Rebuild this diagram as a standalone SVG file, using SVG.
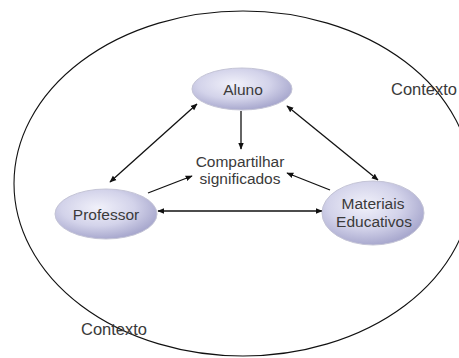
<svg xmlns="http://www.w3.org/2000/svg" width="459" height="358" viewBox="0 0 459 358">
  <defs>
    <radialGradient id="nodeFill" cx="0.42" cy="0.38" r="0.65">
      <stop offset="0" stop-color="#f1f1fa"/>
      <stop offset="0.55" stop-color="#d3d3ea"/>
      <stop offset="1" stop-color="#a4a4cb"/>
    </radialGradient>
    <marker id="head" viewBox="0 0 10 10" refX="9" refY="5" markerWidth="7" markerHeight="7" markerUnits="userSpaceOnUse" orient="auto-start-reverse">
      <path d="M0,1 L10,5 L0,9 z" fill="#111"/>
    </marker>
    <style>
      .node { fill: url(#nodeFill); stroke: #c4c4d6; stroke-width: 1; }
      .label { font-family: "Liberation Sans", Arial, sans-serif; font-size: 15.5px; fill: #3a3a3a; text-anchor: middle; }
      .ctx { font-family: "Liberation Sans", Arial, sans-serif; font-size: 16.5px; fill: #3a3a3a; }
      .link { stroke: #111; stroke-width: 1.3; fill: none; }
    </style>
  </defs>

  <rect width="459" height="358" fill="#fff"/>

  <!-- outer context boundary -->
  <g id="contexto">
    <ellipse cx="243" cy="183.5" rx="229" ry="172.5" fill="none" stroke="#111" stroke-width="1.1"/>
    <text class="ctx" x="391" y="95">Contexto</text>
    <text class="ctx" x="81" y="335">Contexto</text>
  </g>

  <!-- connectors -->
  <g id="connectors">
    <line class="link" x1="241" y1="111" x2="241" y2="149" marker-end="url(#head)"/>
    <line class="link" x1="197" y1="104" x2="110" y2="182" marker-start="url(#head)" marker-end="url(#head)"/>
    <line class="link" x1="287" y1="106" x2="378" y2="180" marker-start="url(#head)" marker-end="url(#head)"/>
    <line class="link" x1="148" y1="193" x2="192" y2="176" marker-end="url(#head)"/>
    <line class="link" x1="330" y1="190" x2="287" y2="173" marker-end="url(#head)"/>
    <line class="link" x1="158" y1="211" x2="322" y2="211" marker-start="url(#head)" marker-end="url(#head)"/>
  </g>

  <g id="aluno">
    <ellipse class="node" cx="242" cy="89" rx="50" ry="21"/>
    <text class="label" x="243" y="95">Aluno</text>
  </g>

  <g id="professor">
    <ellipse class="node" cx="106" cy="214" rx="51" ry="25"/>
    <text class="label" x="106" y="220">Professor</text>
  </g>

  <g id="materiais">
    <ellipse class="node" cx="373" cy="213" rx="51" ry="32"/>
    <text class="label" x="373" y="209">Materiais</text>
    <text class="label" x="374" y="227">Educativos</text>
  </g>

  <g id="compartilhar">
    <text class="label" x="240" y="167">Compartilhar</text>
    <text class="label" x="240" y="184">significados</text>
  </g>
</svg>
